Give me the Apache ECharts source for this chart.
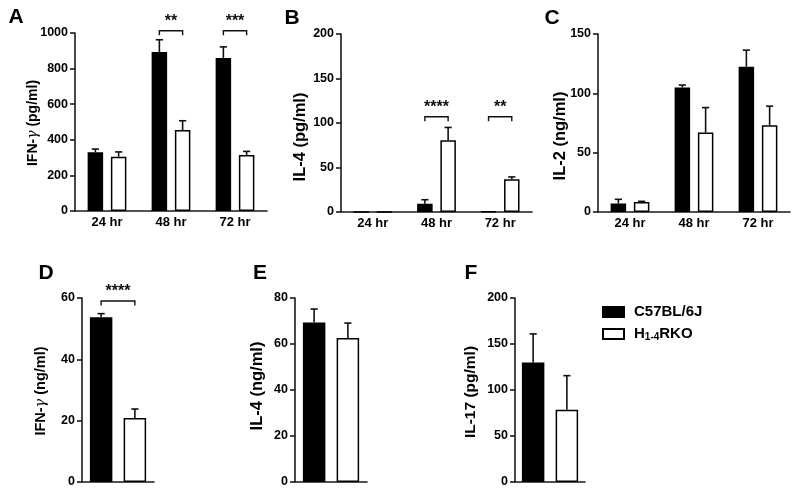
<!DOCTYPE html>
<html>
<head>
<meta charset="utf-8">
<script src="https://cdn.jsdelivr.net/npm/echarts@6/dist/echarts.min.js"></script>
<style>html,body{margin:0;padding:0;background:#fff}#c{width:800px;height:496px}</style>
</head>
<body>
<div id="c"></div>
<script>
// ---------- data ----------
const seriesNames = ['C57BL/6J', 'H1-4RKO'];
const timeCats = ['24 hr', '48 hr', '72 hr'];

// Panel A: IFN-γ (pg/ml)
const aWT = [330, 893, 860];
const aWTErr = [18, 69, 62];
const aKO = [305, 455, 315];
const aKOErr = [27, 52, 20];
const aTicks = { min: 0, max: 1000, interval: 200 };
const aSig = [{ cat: 1, y: 1013, text: '**' }, { cat: 2, y: 1013, text: '***' }];

// Panel B: IL-4 (pg/ml)
const bWT = [0, 9.3, 0.8];
const bWTErr = [0, 4.5, 0];
const bKO = [0, 80.7, 36.8];
const bKOErr = [0, 14.3, 2.6];
const bTicks = { min: 0, max: 200, interval: 50 };
const bSig = [{ cat: 1, y: 107, text: '****' }, { cat: 2, y: 107, text: '**' }];

// Panel C: IL-2 (ng/ml)
const cWT = [7.1, 105, 122.4];
const cWTErr = [3.6, 2, 14];
const cKO = [8.4, 67, 73.2];
const cKOErr = [0.6, 21, 16];
const cTicks = { min: 0, max: 150, interval: 50 };

// Panel D: IFN-γ (ng/ml)
const dWT = [53.7], dWTErr = [1.2], dKO = [20.9], dKOErr = [2.9];
const dTicks = { min: 0, max: 60, interval: 20 };
const dSig = [{ cat: 0, y: 59, text: '****' }];

// Panel E: IL-4 (ng/ml)
const eWT = [69.4], eWTErr = [5.8], eKO = [62.6], eKOErr = [6.5];
const eTicks = { min: 0, max: 80, interval: 20 };

// Panel F: IL-17 (pg/ml)
const fWT = [130], fWTErr = [31], fKO = [78.6], fKOErr = [37];
const fTicks = { min: 0, max: 200, interval: 50 };

// ---------- layout / style ----------
const FONT = '"Liberation Sans", Arial, sans-serif';
const AX = '#1a1a1a';
const panels = [
  { grid: { left: 75, top: 33, width: 192, height: 178 }, cats: timeCats, wt: aWT, wtE: aWTErr, ko: aKO, koE: aKOErr, ticks: aTicks, sig: aSig, bw: 15.5, letter: 'A', lx: 16, ly: 17, title: ['IFN-', 'γ', ' (pg/ml)'], tfs: 14, tx: 33, ty: 123 },
  { grid: { left: 341, top: 34, width: 191, height: 178 }, cats: timeCats, wt: bWT, wtE: bWTErr, ko: bKO, koE: bKOErr, ticks: bTicks, sig: bSig, bw: 15.5, letter: 'B', lx: 292, ly: 18, title: ['IL-4 (pg/ml)'], tfs: 16.5, tx: 300, ty: 137 },
  { grid: { left: 598, top: 34, width: 192, height: 178 }, cats: timeCats, wt: cWT, wtE: cWTErr, ko: cKO, koE: cKOErr, ticks: cTicks, sig: [], bw: 15.5, letter: 'C', lx: 552, ly: 18, title: ['IL-2 (ng/ml)'], tfs: 16.5, tx: 560, ty: 136 },
  { grid: { left: 82, top: 298, width: 72, height: 184 }, cats: [''], wt: dWT, wtE: dWTErr, ko: dKO, koE: dKOErr, ticks: dTicks, sig: dSig, bw: 22.5, letter: 'D', lx: 46, ly: 273, title: ['IFN-', 'γ', ' (ng/ml)'], tfs: 14.5, tx: 41, ty: 391 },
  { grid: { left: 295, top: 298, width: 72, height: 184 }, cats: [''], wt: eWT, wtE: eWTErr, ko: eKO, koE: eKOErr, ticks: eTicks, sig: [], bw: 22.5, letter: 'E', lx: 260, ly: 273, title: ['IL-4 (ng/ml)'], tfs: 16.5, tx: 257, ty: 386 },
  { grid: { left: 515, top: 298, width: 70, height: 184 }, cats: [''], wt: fWT, wtE: fWTErr, ko: fKO, koE: fKOErr, ticks: fTicks, sig: [], bw: 22.5, letter: 'F', lx: 471, ly: 273, title: ['IL-17 (pg/ml)'], tfs: 15.5, tx: 471, ty: 392 }
];
const BAR_GAP = 0.5;

function errRender(sign, bw) {
  const off = sign * (bw + bw * BAR_GAP) / 2;
  return function (params, api) {
    const e = api.value(2);
    if (!e) return null;
    const p0 = api.coord([api.value(0), api.value(1)]);
    const p1 = api.coord([api.value(0), api.value(1) + e]);
    const x = p0[0] + off;
    const st = { stroke: '#111', lineWidth: 1.6 };
    return {
      type: 'group', children: [
        { type: 'line', shape: { x1: x, y1: p0[1], x2: x, y2: p1[1] }, style: st },
        { type: 'line', shape: { x1: x - 3.6, y1: p1[1], x2: x + 3.6, y2: p1[1] }, style: st }
      ]
    };
  };
}
function sigRender(sig, bw) {
  const off = (bw + bw * BAR_GAP) / 2;
  return function (params, api) {
    const p = api.coord([api.value(0), api.value(1)]);
    const x1 = p[0] - off, x2 = p[0] + off, y = p[1];
    const st = { stroke: '#111', lineWidth: 1.4, fill: null };
    return {
      type: 'group', children: [
        { type: 'polyline', shape: { points: [[x1, y + 4.5], [x1, y], [x2, y], [x2, y + 4.5]] }, style: st },
        { type: 'text', x: p[0], y: y - 1, style: { text: sig[params.dataIndex].text, font: 'bold 16px ' + FONT, fill: '#111', align: 'center', verticalAlign: 'bottom' } }
      ]
    };
  };
}

const grid = [], xAxis = [], yAxis = [], series = [], graphic = [];
panels.forEach((p, i) => {
  grid.push(Object.assign({ containLabel: false }, p.grid));
  xAxis.push({
    type: 'category', gridIndex: i, data: p.cats,
    axisLine: { lineStyle: { color: AX, width: 1.6 } },
    axisTick: { show: false },
    axisLabel: { show: p.cats.length > 1, color: '#000', fontFamily: FONT, fontWeight: 'bold', fontSize: 13, margin: 5 }
  });
  yAxis.push({
    type: 'value', gridIndex: i, min: p.ticks.min, max: p.ticks.max, interval: p.ticks.interval,
    axisLine: { show: true, lineStyle: { color: AX, width: 1.6 } },
    axisTick: { show: true, length: 5, lineStyle: { color: AX, width: 1.6 } },
    axisLabel: { color: '#000', fontFamily: FONT, fontWeight: 'bold', fontSize: 12.5, margin: 7, formatter: v => String(v) },
    splitLine: { show: false }
  });
  series.push({
    name: seriesNames[0], type: 'bar', xAxisIndex: i, yAxisIndex: i, data: p.wt,
    barWidth: p.bw, barGap: (BAR_GAP * 100) + '%',
    itemStyle: { color: '#000', borderColor: '#000', borderWidth: 1.5 }, z: 2
  });
  series.push({
    name: seriesNames[1], type: 'bar', xAxisIndex: i, yAxisIndex: i, data: p.ko,
    barWidth: p.bw, barGap: (BAR_GAP * 100) + '%',
    itemStyle: { color: '#fff', borderColor: '#000', borderWidth: 1.5 }, z: 2
  });
  series.push({
    type: 'custom', xAxisIndex: i, yAxisIndex: i, z: 3,
    data: p.wt.map((v, k) => [k, v, p.wtE[k]]), renderItem: errRender(-1, p.bw)
  });
  series.push({
    type: 'custom', xAxisIndex: i, yAxisIndex: i, z: 3,
    data: p.ko.map((v, k) => [k, v, p.koE[k]]), renderItem: errRender(1, p.bw)
  });
  if (p.sig.length) {
    series.push({
      type: 'custom', xAxisIndex: i, yAxisIndex: i, z: 4, clip: false,
      data: p.sig.map(s => [s.cat, s.y]), renderItem: sigRender(p.sig, p.bw)
    });
  }
  graphic.push({
    type: 'text', x: p.lx, y: p.ly,
    style: { text: p.letter, font: 'bold 21px ' + FONT, fill: '#000', align: 'center', verticalAlign: 'middle' }
  });
  const rich = { a: { fontFamily: FONT, fontWeight: 'bold', fontSize: p.tfs, fill: '#000' }, g: { fontFamily: 'DejaVu Serif', fontStyle: 'italic', fontSize: p.tfs, fill: '#000' } };
  const txt = p.title.length === 3 ? '{a|' + p.title[0] + '}{g|' + p.title[1] + '}{a|' + p.title[2] + '}' : '{a|' + p.title[0] + '}';
  graphic.push({
    type: 'text', x: p.tx, y: p.ty, rotation: Math.PI / 2,
    style: { text: txt, rich: rich, align: 'center', verticalAlign: 'middle' }
  });
});

const option = {
  animation: false,
  backgroundColor: '#fff',
  grid, xAxis, yAxis, series, graphic,
  legend: {
    data: seriesNames, orient: 'vertical', left: 602, top: 304.5, padding: 0,
    itemWidth: 21, itemHeight: 10, itemGap: 7, icon: 'rect',
    selectedMode: false,
    formatter: function (n) { return n === 'H1-4RKO' ? '{a|H}{s|1-4}{a|RKO}' : '{a|' + n + '}'; },
    textStyle: {
      color: '#000', padding: [0, 0, 0, 5],
      rich: {
        a: { fontFamily: FONT, fontWeight: 'bold', fontSize: 15, color: '#000', lineHeight: 17 },
        s: { fontFamily: FONT, fontWeight: 'bold', fontSize: 10, color: '#000', verticalAlign: 'bottom', lineHeight: 12, padding: [6, 0, 0, 0] }
      }
    }
  }
};
const chart = echarts.init(document.getElementById('c'), null, { renderer: 'canvas' });
chart.setOption(option);
</script>
</body>
</html>
